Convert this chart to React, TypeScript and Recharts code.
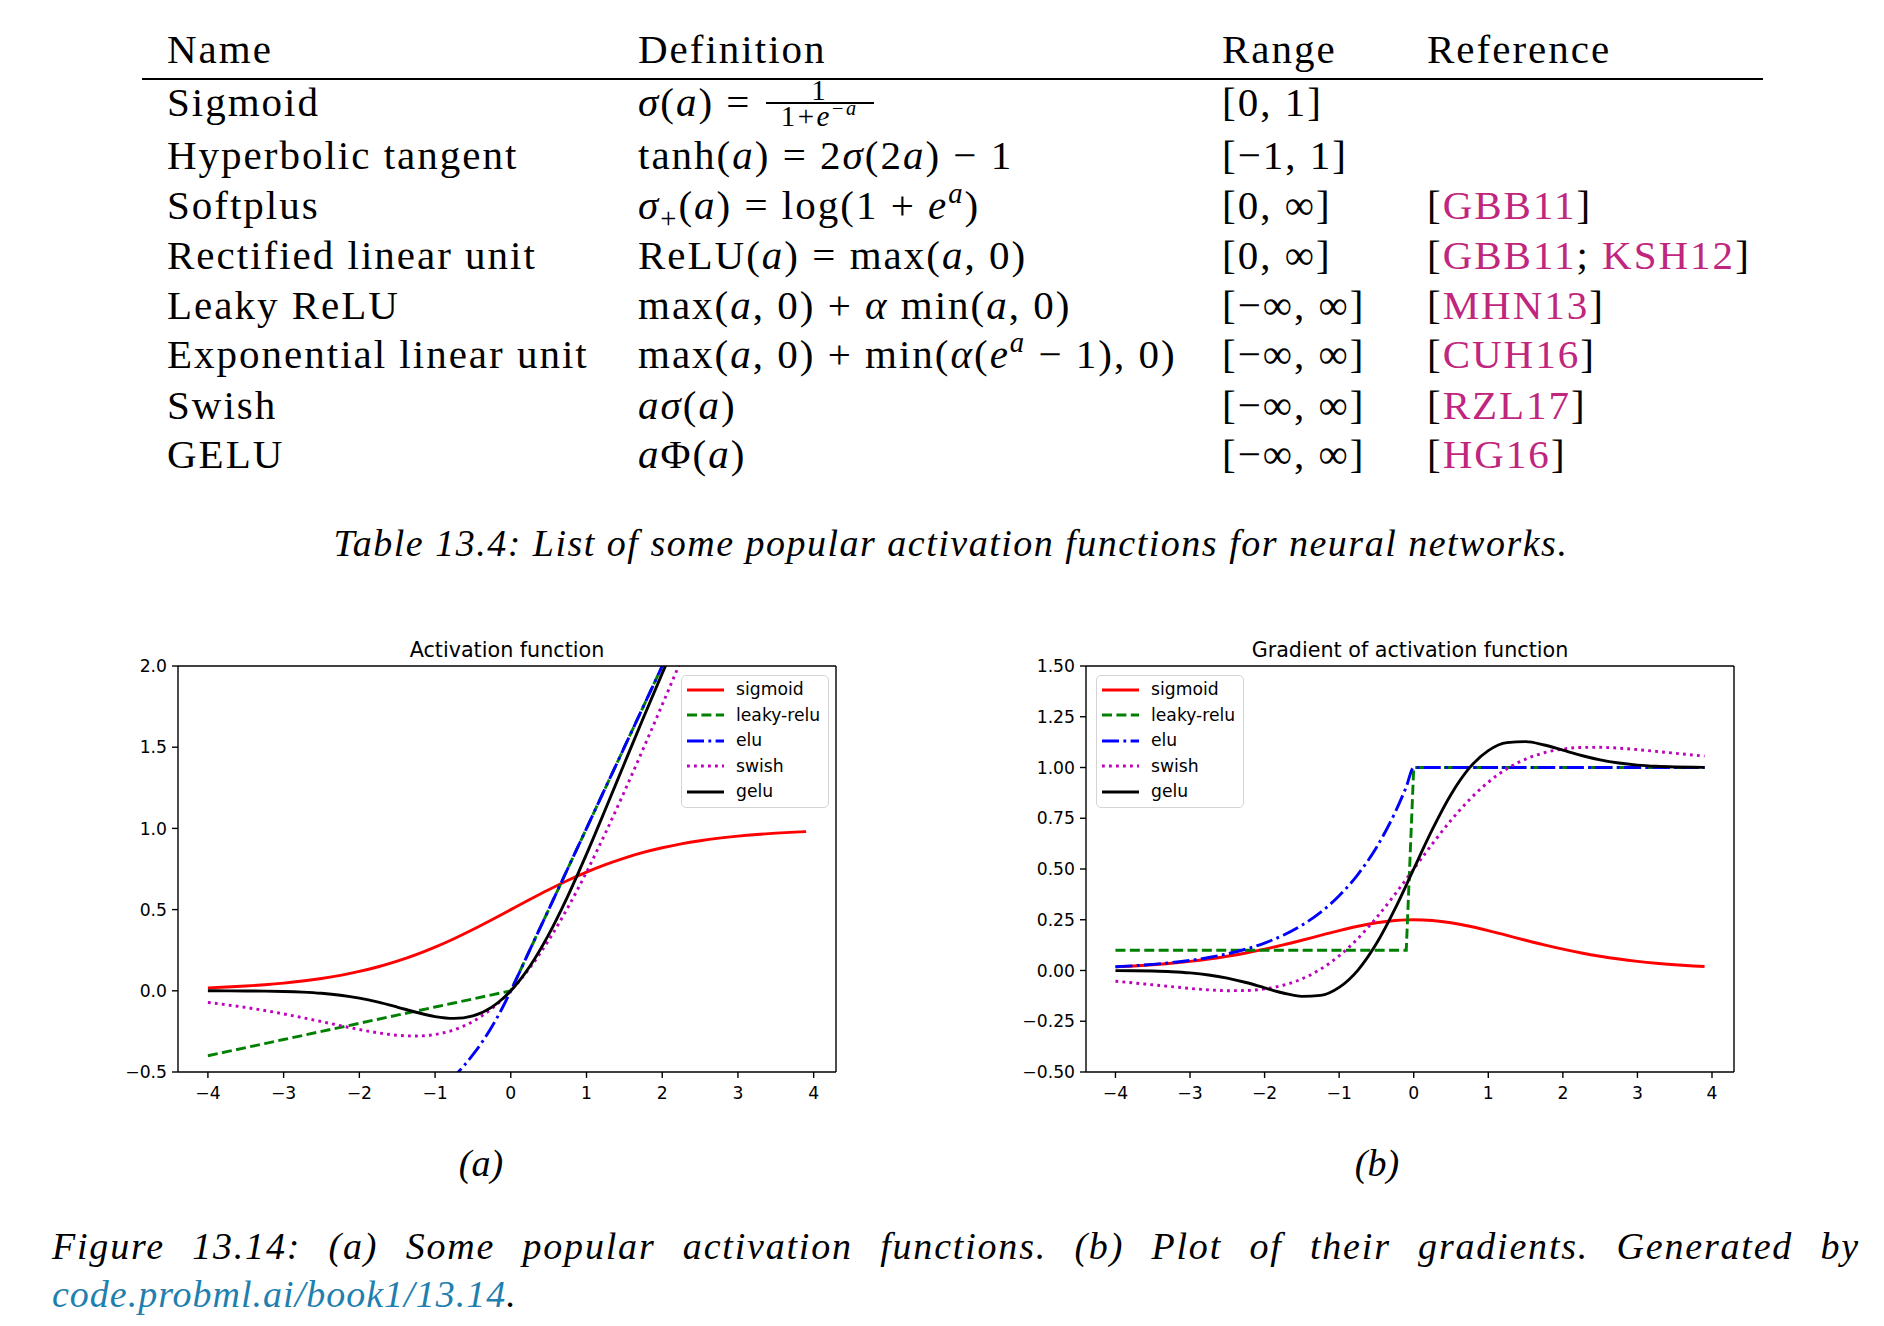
import React from "react";
import { LineChart, Line, XAxis, YAxis, Legend } from "recharts";

// sample points along a (same grid for both panels)
const xValues = [-4, -3.75, -3.5, -3.25, -3, -2.75, -2.5, -2.25, -2, -1.75, -1.5, -1.25, -1, -0.75, -0.5, -0.25, -0.1, 0, 0.25, 0.5, 0.75, 1, 1.25, 1.5, 1.75, 2, 2.25, 2.5, 2.75, 3, 3.25, 3.5, 3.75, 3.9];

// (a) activation values
const sigmoidValues = [0.018, 0.023, 0.0293, 0.0373, 0.0474, 0.0601, 0.0759, 0.0953, 0.1192, 0.148, 0.1824, 0.2227, 0.2689, 0.3208, 0.3775, 0.4378, 0.475, 0.5, 0.5622, 0.6225, 0.6792, 0.7311, 0.7773, 0.8176, 0.852, 0.8808, 0.9047, 0.9241, 0.9399, 0.9526, 0.9627, 0.9707, 0.977, 0.9802];
const leakyReluValues = [-0.4, -0.375, -0.35, -0.325, -0.3, -0.275, -0.25, -0.225, -0.2, -0.175, -0.15, -0.125, -0.1, -0.075, -0.05, -0.025, -0.01, 0, 0.25, 0.5, 0.75, 1, 1.25, 1.5, 1.75, 2, 2.25, 2.5, 2.75, 3, 3.25, 3.5, 3.75, 3.9];
const eluValues = [-0.9817, -0.9765, -0.9698, -0.9612, -0.9502, -0.9361, -0.9179, -0.8946, -0.8647, -0.8262, -0.7769, -0.7135, -0.6321, -0.5276, -0.3935, -0.2212, -0.0952, 0, 0.25, 0.5, 0.75, 1, 1.25, 1.5, 1.75, 2, 2.25, 2.5, 2.75, 3, 3.25, 3.5, 3.75, 3.9];
const swishValues = [-0.0719, -0.0863, -0.1026, -0.1212, -0.1423, -0.1653, -0.1897, -0.2144, -0.2384, -0.259, -0.2736, -0.2784, -0.2689, -0.2406, -0.1888, -0.1095, -0.0475, 0, 0.1405, 0.3112, 0.5094, 0.7311, 0.9716, 1.2264, 1.491, 1.7616, 2.0356, 2.3103, 2.5847, 2.8577, 3.1288, 3.3975, 3.6638, 3.8228];
const geluValues = [-0.0001, -0.0003, -0.0008, -0.0019, -0.004, -0.0082, -0.0155, -0.0275, -0.0455, -0.0701, -0.1002, -0.1321, -0.1587, -0.17, -0.1543, -0.1003, -0.046, 0, 0.1497, 0.3457, 0.58, 0.8413, 1.1179, 1.3998, 1.6799, 1.9545, 2.2225, 2.4845, 2.7418, 2.996, 3.2481, 3.4992, 3.7497, 3.8998];

// (b) gradient values
const sigmoidGrad = [0.0177, 0.0225, 0.0285, 0.0359, 0.0452, 0.0565, 0.0701, 0.0862, 0.105, 0.1261, 0.1491, 0.1731, 0.1966, 0.2179, 0.235, 0.2461, 0.2494, 0.25, 0.2461, 0.235, 0.2179, 0.1966, 0.1731, 0.1491, 0.1261, 0.105, 0.0862, 0.0701, 0.0565, 0.0452, 0.0359, 0.0285, 0.0225, 0.0194];
const leakyReluGrad = [0.1, 0.1, 0.1, 0.1, 0.1, 0.1, 0.1, 0.1, 0.1, 0.1, 0.1, 0.1, 0.1, 0.1, 0.1, 0.1, 0.1, 1, 1, 1, 1, 1, 1, 1, 1, 1, 1, 1, 1, 1, 1, 1, 1, 1];
const eluGrad = [0.0183, 0.0235, 0.0302, 0.0388, 0.0498, 0.0639, 0.0821, 0.1054, 0.1353, 0.1738, 0.2231, 0.2865, 0.3679, 0.4724, 0.6065, 0.7788, 0.9048, 1, 1, 1, 1, 1, 1, 1, 1, 1, 1, 1, 1, 1, 1, 1, 1, 1];
const swishGrad = [-0.0528, -0.0614, -0.0705, -0.0794, -0.0882, -0.0953, -0.0994, -0.0987, -0.0908, -0.0727, -0.0413, 0.0063, 0.0723, 0.1574, 0.26, 0.3763, 0.4501, 0.5, 0.6237, 0.74, 0.8426, 0.9277, 0.9937, 1.0413, 1.0727, 1.0908, 1.0987, 1.0994, 1.0953, 1.0882, 1.0794, 1.0705, 1.0614, 1.0559];
const geluGrad = [-0.0005, -0.0012, -0.0028, -0.006, -0.0119, -0.022, -0.0376, -0.0592, -0.0852, -0.1109, -0.1275, -0.1227, -0.0833, 0.0008, 0.1325, 0.3046, 0.4205, 0.5, 0.6954, 0.8675, 0.9992, 1.0833, 1.1227, 1.1275, 1.1109, 1.0852, 1.0592, 1.0376, 1.022, 1.0119, 1.006, 1.0028, 1.0012, 1.0007];

const xTicks = [-4, -3, -2, -1, 0, 1, 2, 3, 4];
const activationTicks = [-0.5, 0, 0.5, 1, 1.5, 2];
const gradientTicks = [-0.5, -0.25, 0, 0.25, 0.5, 0.75, 1, 1.25, 1.5];

const seriesNames = ["sigmoid", "leaky-relu", "elu", "swish", "gelu"];

// table text
const tableHeaders = ["Name", "Definition", "Range", "Reference"];
const functionNames = ["Sigmoid", "Hyperbolic tangent", "Softplus", "Rectified linear unit", "Leaky ReLU", "Exponential linear unit", "Swish", "GELU"];
const functionRanges = ["[0, 1]", "[\u22121, 1]", "[0, \u221e]", "[0, \u221e]", "[\u2212\u221e, \u221e]", "[\u2212\u221e, \u221e]", "[\u2212\u221e, \u221e]", "[\u2212\u221e, \u221e]"];
const functionRefs = [[], [], ["GBB11"], ["GBB11", "KSH12"], ["MHN13"], ["CUH16"], ["RZL17"], ["HG16"]];

const SANS = "'DejaVu Sans', sans-serif";
const SERIF = "'Liberation Serif', 'Times New Roman', serif";
const REF_COLOR = "#c0267d";
const LINK_COLOR = "#1f7fae";
const LW = 2.9;

const lineStyle: Record<string, { color: string; dash?: string; curve: "monotone" | "linear" }> = {
  sigmoid: { color: "#ff0000", curve: "monotone" },
  "leaky-relu": { color: "#008000", dash: "10 4.4", curve: "linear" },
  elu: { color: "#0000ff", dash: "17 4.4 2.8 4.4", curve: "monotone" },
  swish: { color: "#bf00bf", dash: "2.8 4.2", curve: "monotone" },
  gelu: { color: "#000000", curve: "monotone" },
};

const activationData = xValues.map((x, i) => ({
  x,
  sigmoid: sigmoidValues[i],
  "leaky-relu": leakyReluValues[i],
  elu: eluValues[i],
  swish: swishValues[i],
  gelu: geluValues[i],
}));

const gradientData = xValues.map((x, i) => ({
  x,
  sigmoid: sigmoidGrad[i],
  "leaky-relu": leakyReluGrad[i],
  elu: eluGrad[i],
  swish: swishGrad[i],
  gelu: geluGrad[i],
}));

const xDomain: [number, number] = [-4.395, 4.295];
const fmt = (digits: number) => (v: number) => v.toFixed(digits).replace("-", "\u2212");
const tickFont = { fill: "#000", fontSize: 17.2, fontFamily: SANS };
const axisStroke = { stroke: "#000", strokeWidth: 1.4 };

function LegendBox() {
  return (
    <div
      style={{
        width: 148,
        height: 133,
        boxSizing: "border-box",
        border: "1.5px solid #d4d4d4",
        borderRadius: 5,
        background: "rgba(255,255,255,0.8)",
        fontFamily: SANS,
        fontSize: 17.2,
        paddingTop: 1,
        color: "#000",
      }}
    >
      {seriesNames.map((name) => (
        <div key={name} style={{ display: "flex", alignItems: "center", height: 25.5 }}>
          <svg width={50} height={10} style={{ flex: "none" }}>
            <line x1={5} x2={42} y1={5} y2={5} stroke={lineStyle[name].color} strokeWidth={LW} strokeDasharray={lineStyle[name].dash} />
          </svg>
          <span style={{ marginLeft: 4, lineHeight: 1 }}>{name}</span>
        </div>
      ))}
    </div>
  );
}

function Panel(props: {
  data: any[];
  yDomain: [number, number];
  yTicks: number[];
  digits: number;
  width: number;
  legendLeft: number;
}) {
  const { data, yDomain, yTicks, digits, width, legendLeft } = props;
  return (
    <LineChart width={width} height={487} data={data} margin={{ top: 35, right: 10, bottom: 5, left: 0 }}>
      <XAxis
        dataKey="x"
        type="number"
        domain={xDomain}
        ticks={xTicks}
        allowDataOverflow
        height={40}
        tickSize={6}
        tickMargin={9}
        tick={tickFont}
        tickLine={axisStroke}
        axisLine={axisStroke}
        tickFormatter={fmt(0)}
      />
      <XAxis xAxisId="top" orientation="top" type="number" domain={xDomain} allowDataOverflow height={1} tick={false} tickLine={false} axisLine={axisStroke} />
      <YAxis
        type="number"
        domain={yDomain}
        ticks={yTicks}
        allowDataOverflow
        width={78}
        tickSize={6}
        tickMargin={5}
        tick={tickFont}
        tickLine={axisStroke}
        axisLine={axisStroke}
        tickFormatter={fmt(digits)}
      />
      <YAxis yAxisId="right" orientation="right" type="number" domain={yDomain} allowDataOverflow width={1} tick={false} tickLine={false} axisLine={axisStroke} />
      {seriesNames.map((name) => (
        <Line
          key={name}
          dataKey={name}
          type={lineStyle[name].curve}
          stroke={lineStyle[name].color}
          strokeWidth={LW}
          strokeDasharray={lineStyle[name].dash}
          dot={false}
          activeDot={false}
          isAnimationActive={false}
        />
      ))}
      <Legend layout="vertical" align="center" verticalAlign="middle" wrapperStyle={{ left: legendLeft, top: 45, width: 148 }} content={() => <LegendBox />} />
    </LineChart>
  );
}

const M = ({ children }: { children: React.ReactNode }) => <i>{children}</i>;
const Sup = ({ children }: { children: React.ReactNode }) => (
  <span style={{ fontSize: "0.7em", verticalAlign: "0.55em", lineHeight: 0 }}>{children}</span>
);
const Sub = ({ children }: { children: React.ReactNode }) => (
  <span style={{ fontSize: "0.7em", verticalAlign: "-0.3em", lineHeight: 0 }}>{children}</span>
);

// 1 / (1 + e^-a), bar sitting on the row's middle line
const SigmoidFraction = () => (
  <span style={{ display: "inline-block", position: "relative", width: 112, height: 50, verticalAlign: "top", fontSize: 29, lineHeight: "22px", letterSpacing: 2.5 }}>
    <span style={{ position: "absolute", left: 0, right: 0, top: 2, textAlign: "center" }}>1</span>
    <span style={{ position: "absolute", left: 2, right: 2, top: 25, height: 1.6, background: "#000" }} />
    <span style={{ position: "absolute", left: 0, right: 0, top: 28, textAlign: "center", whiteSpace: "nowrap" }}>
      1+<M>e</M>
      <Sup>−<M>a</M></Sup>
    </span>
  </span>
);

const definitions = [
  <>
    <M>σ</M>(<M>a</M>) = <SigmoidFraction />
  </>,
  <>
    tanh(<M>a</M>) = 2<M>σ</M>(2<M>a</M>) − 1
  </>,
  <>
    <M>σ</M>
    <Sub>+</Sub>(<M>a</M>) = log(1 + <M>e</M>
    <Sup>
      <M>a</M>
    </Sup>
    )
  </>,
  <>
    ReLU(<M>a</M>) = max(<M>a</M>, 0)
  </>,
  <>
    max(<M>a</M>, 0) + <M>α</M> min(<M>a</M>, 0)
  </>,
  <>
    max(<M>a</M>, 0) + min(<M>α</M>(<M>e</M>
    <Sup>
      <M>a</M>
    </Sup>{" "}
    − 1), 0)
  </>,
  <>
    <M>aσ</M>(<M>a</M>)
  </>,
  <>
    <M>a</M>Φ(<M>a</M>)
  </>,
];

const columnX = [167, 638, 1222, 1427];
const headerCenter = 49;
const rowCenters = [102, 155, 205, 255, 305, 354, 405, 454];

function Cell({ x, cy, children }: { x: number; cy: number; children: React.ReactNode }) {
  return (
    <div style={{ position: "absolute", left: x, top: cy - 25, height: 50, lineHeight: "50px", whiteSpace: "nowrap" }}>{children}</div>
  );
}

export default function App() {
  return (
    <div style={{ position: "absolute", left: 0, top: 0, width: 1884, height: 1326, background: "#fff", overflow: "hidden", color: "#000" }}>
      {/* table */}
      <div style={{ position: "absolute", left: 0, top: 0, fontFamily: SERIF, fontSize: 41, letterSpacing: 2 }}>
        {tableHeaders.map((h, i) => (
          <Cell key={h} x={columnX[i]} cy={headerCenter}>
            {h}
          </Cell>
        ))}
        {functionNames.map((name, r) => (
          <React.Fragment key={name}>
            <Cell x={columnX[0]} cy={rowCenters[r]}>{name}</Cell>
            <Cell x={columnX[1]} cy={rowCenters[r]}>{definitions[r]}</Cell>
            <Cell x={columnX[2]} cy={rowCenters[r]}>{functionRanges[r]}</Cell>
            <Cell x={columnX[3]} cy={rowCenters[r]}>
              {functionRefs[r].length > 0 && (
                <>
                  [
                  {functionRefs[r].map((ref, k) => (
                    <React.Fragment key={ref}>
                      {k > 0 && "; "}
                      <span style={{ color: REF_COLOR }}>{ref}</span>
                    </React.Fragment>
                  ))}
                  ]
                </>
              )}
            </Cell>
          </React.Fragment>
        ))}
      </div>
      <div style={{ position: "absolute", left: 142, top: 78, width: 1621, height: 2, background: "#000" }} />
      <div style={{ position: "absolute", left: 151, top: 543 - 25, width: 1600, lineHeight: "50px", textAlign: "center", fontFamily: SERIF, fontStyle: "italic", fontSize: 38, letterSpacing: 1.5 }}>
        Table 13.4: List of some popular activation functions for neural networks.
      </div>

      {/* charts */}
      <div style={{ position: "absolute", left: 207, top: 638, width: 600, textAlign: "center", fontFamily: SANS, fontSize: 20.7 }}>Activation function</div>
      <div style={{ position: "absolute", left: 1110, top: 638, width: 600, textAlign: "center", fontFamily: SANS, fontSize: 20.7 }}>Gradient of activation function</div>
      <div style={{ position: "absolute", left: 100, top: 630 }}>
        <Panel data={activationData} yDomain={[-0.5, 2]} yTicks={activationTicks} digits={1} width={747} legendLeft={581} />
      </div>
      <div style={{ position: "absolute", left: 1008, top: 630 }}>
        <Panel data={gradientData} yDomain={[-0.5, 1.5]} yTicks={gradientTicks} digits={2} width={737} legendLeft={88} />
      </div>
      <div style={{ position: "absolute", left: 381, top: 1163 - 25, width: 200, lineHeight: "50px", textAlign: "center", fontFamily: SERIF, fontStyle: "italic", fontSize: 38 }}>(a)</div>
      <div style={{ position: "absolute", left: 1277, top: 1163 - 25, width: 200, lineHeight: "50px", textAlign: "center", fontFamily: SERIF, fontStyle: "italic", fontSize: 38 }}>(b)</div>

      {/* figure caption */}
      <div style={{ position: "absolute", left: 52, top: 1246 - 25, width: 1808, lineHeight: "50px", textAlign: "justify", textAlignLast: "justify", fontFamily: SERIF, fontStyle: "italic", fontSize: 38, letterSpacing: 1.8 }}>
        Figure 13.14: (a) Some popular activation functions. (b) Plot of their gradients. Generated by
      </div>
      <div style={{ position: "absolute", left: 52, top: 1294 - 25, lineHeight: "50px", fontFamily: SERIF, fontStyle: "italic", fontSize: 38, letterSpacing: 1 }}>
        <span style={{ color: LINK_COLOR }}>code.probml.ai/book1/13.14</span>.
      </div>
    </div>
  );
}
